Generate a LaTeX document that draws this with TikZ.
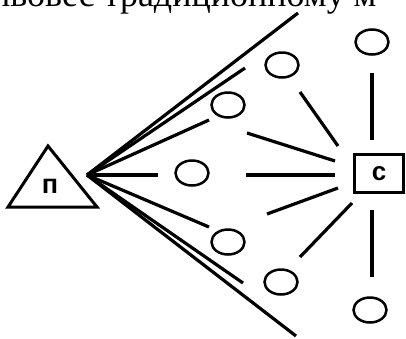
\documentclass[tikz,border=0pt]{standalone}
\usepackage{fontspec}
\setmainfont{Liberation Serif}
\newfontfamily\labelfont{Liberation Sans}
\usetikzlibrary{shapes.geometric}
\tikzset{
  ray/.style={line width=3.2pt},
  link/.style={line width=3.2pt},
  bubble/.style={ellipse, draw, line width=2.5pt, minimum width=33pt, minimum height=25pt, inner sep=0pt},
  cbox/.style={rectangle, draw, line width=3pt, minimum width=49pt, minimum height=38pt, inner sep=0pt, font=\labelfont\bfseries\fontsize{26}{26}\selectfont},
}
\begin{document}
\begin{tikzpicture}[x=1pt,y=-1pt]
\useasboundingbox (0,0) rectangle (406,338);
\clip (0,0) rectangle (406,338);
% cut-off line of text at the top
\node[anchor=base west, inner sep=0pt, font=\fontsize{36}{36}\selectfont] (toptext) at (-9,6.5) {ивовес традиционному м};
% triangle
\draw[line width=3pt, line join=miter] (48,146) -- (97,207) -- (8,207) -- cycle;
\node[font=\labelfont\bfseries\fontsize{27}{27}\selectfont, inner sep=0pt] (p) at (50,186) {п};
% focal point
\coordinate (F) at (87,175);
% box
\node[cbox] (C) at (379,173.5) {с};
% ellipses
\node[bubble] (e1) at (372,42) {};
\node[bubble] (e2) at (282,65) {};
\node[bubble] (e3) at (228,105) {};
\node[bubble] (e4) at (192,173) {};
\node[bubble] (e5) at (228,242) {};
\node[bubble] (e6) at (281,282) {};
\node[bubble] (e7) at (370,310) {};
% ray ends
\coordinate (r1) at (298,13);
\coordinate (r2) at (245,68);
\coordinate (r3) at (209,120);
\coordinate (r4) at (158,175);
\coordinate (r5) at (209,227);
\coordinate (r6) at (243,283);
\coordinate (r7) at (296,336);
\foreach \r in {r1,r2,r3,r4,r5,r6,r7} \draw[ray] (F) -- (\r);
% links towards C
\coordinate (a1) at (372,73);  \coordinate (b1) at (372,140);
\coordinate (a2) at (300,92);  \coordinate (b2) at (338,146);
\coordinate (a3) at (247,133); \coordinate (b3) at (335,161);
\coordinate (a4) at (246,175); \coordinate (b4) at (335,175);
\coordinate (a5) at (267,214); \coordinate (b5) at (338,188);
\coordinate (a6) at (300,257); \coordinate (b6) at (352,203);
\coordinate (a7) at (372,277); \coordinate (b7) at (372,210);
\foreach \i in {1,...,7} \draw[link] (a\i) -- (b\i);
\end{tikzpicture}
\end{document}
